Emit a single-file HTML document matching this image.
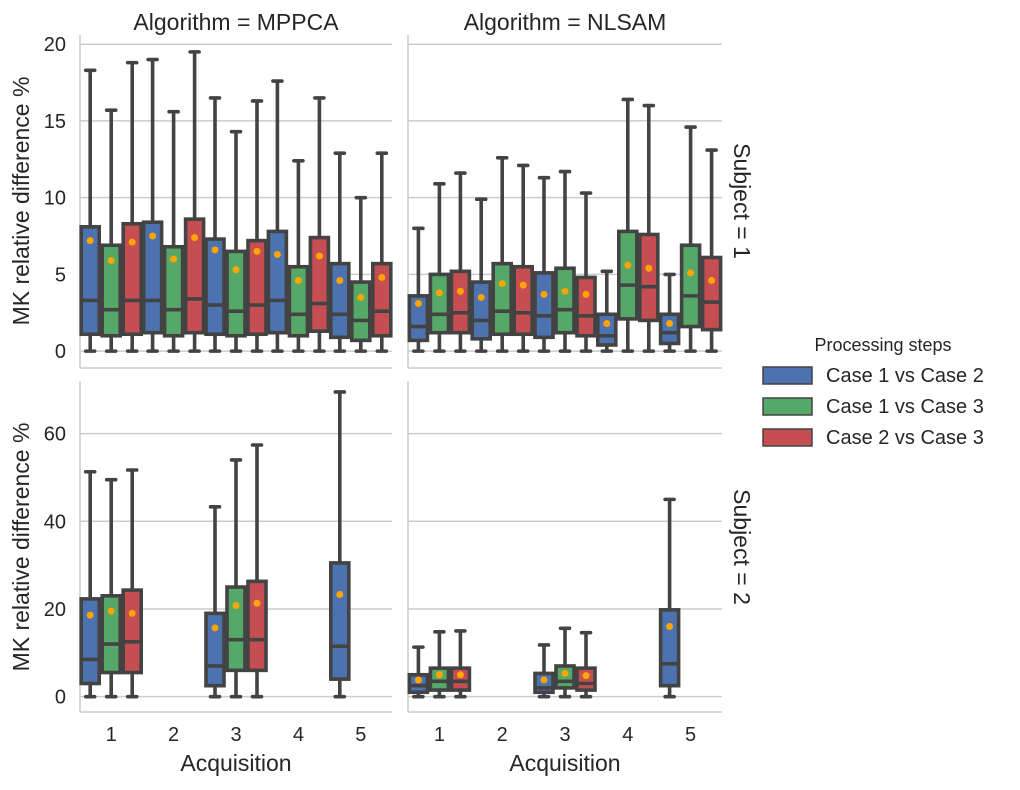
<!DOCTYPE html>
<html><head><meta charset="utf-8"><style>
body{margin:0;background:#fff;}
svg text{font-family:"Liberation Sans",sans-serif;fill:#262626;}
</style></head><body>
<svg id="c" width="1020" height="785"></svg>
<script>
const acquisitions=[1,2,3,4,5];
const seriesNames=["Case 1 vs Case 2","Case 1 vs Case 3","Case 2 vs Case 3"];
const seriesColors=["#4c72b0","#55a868","#c44e52"];
// each box: [low, q1, median, q3, high, mean]
const mppcaS1=[
 [[0,1.1,3.3,8.1,18.3,7.2],[0,1.0,2.7,6.9,15.7,5.9],[0,1.1,3.3,8.3,18.8,7.1]],
 [[0,1.2,3.3,8.4,19.0,7.5],[0,1.0,2.7,6.8,15.6,6.0],[0,1.2,3.4,8.6,19.5,7.4]],
 [[0,1.1,3.0,7.3,16.5,6.6],[0,1.0,2.6,6.5,14.3,5.3],[0,1.1,3.0,7.2,16.3,6.5]],
 [[0,1.2,3.3,7.8,17.6,6.3],[0,1.0,2.4,5.5,12.4,4.6],[0,1.3,3.1,7.4,16.5,6.2]],
 [[0,0.9,2.4,5.7,12.9,4.6],[0,0.7,2.0,4.5,10.0,3.5],[0,1.0,2.6,5.7,12.9,4.8]]];
const nlsamS1=[
 [[0,0.7,1.6,3.6,8.0,3.1],[0,1.2,2.4,5.0,10.9,3.8],[0,1.2,2.5,5.2,11.6,3.9]],
 [[0,0.8,2.0,4.5,9.9,3.5],[0,1.1,2.6,5.7,12.6,4.4],[0,1.1,2.5,5.5,12.1,4.3]],
 [[0,0.9,2.3,5.1,11.3,3.7],[0,1.2,2.7,5.4,11.7,3.9],[0,1.0,2.3,4.8,10.3,3.7]],
 [[0,0.4,1.0,2.4,5.2,1.8],[0,2.1,4.3,7.8,16.4,5.6],[0,2.0,4.2,7.6,16.0,5.4]],
 [[0,0.5,1.2,2.4,5.0,1.8],[0,1.6,3.6,6.9,14.6,5.1],[0,1.4,3.2,6.1,13.1,4.6]]];
const mppcaS2=[
 [[0,3,8.5,22.3,51.3,18.6],[0,5.5,12,23,49.5,19.5],[0,5.5,12.5,24.3,51.7,19]],
 [null,null,null],
 [[0,2.5,7,19,43.3,15.7],[0,6,13,25,54,20.8],[0,6,13,26.3,57.4,21.3]],
 [null,null,null],
 [[0,4,11.5,30.5,69.5,23.3],null,null]];
const nlsamS2=[
 [[0,1,2.5,5,11.3,3.8],[0,1.5,3.5,6.5,14.8,5],[0,1.5,3.5,6.5,15,5]],
 [null,null,null],
 [[0,1,2,5.3,11.8,3.8],[0,2,3.5,7,15.6,5.3],[0,1.5,3,6.5,14.6,4.8]],
 [null,null,null],
 [[0,2.5,7.5,19.8,45,16],null,null]];
const ticksS1=[0,5,10,15,20];
const ticksS2=[0,20,40,60];

const svg=document.getElementById('c');
const NS="http://www.w3.org/2000/svg";
function mk(tag,attrs,parent){const e=document.createElementNS(NS,tag);for(const k in attrs)e.setAttribute(k,attrs[k]);(parent||svg).appendChild(e);return e;}

const panels=[
 {data:mppcaS1,x0:80,x1:392,y0:35,y1:368,ymin:-1.1,ymax:20.6,ticks:ticksS1,left:true,bottom:false,name:'mppca-subject1'},
 {data:nlsamS1,x0:408,x1:722,y0:35,y1:368,ymin:-1.1,ymax:20.6,ticks:ticksS1,left:false,bottom:false,name:'nlsam-subject1'},
 {data:mppcaS2,x0:80,x1:392,y0:381,y1:712,ymin:-3.5,ymax:72,ticks:ticksS2,left:true,bottom:true,name:'mppca-subject2'},
 {data:nlsamS2,x0:408,x1:722,y0:381,y1:712,ymin:-3.5,ymax:72,ticks:ticksS2,left:false,bottom:true,name:'nlsam-subject2'}];

panels.forEach(p=>{
 const g=mk('g',{});
 
 
 const ys=v=>p.y1-(v-p.ymin)/(p.ymax-p.ymin)*(p.y1-p.y0);
 const step=(p.x1-p.x0)/acquisitions.length;
 const xs=i=>p.x0+step*(i+0.5);
 p.ticks.forEach(t=>{
  const gl=mk('line',{x1:p.x0,x2:p.x1,y1:ys(t),y2:ys(t),stroke:'#cccccc','stroke-width':1.5},g);
  
  
  if(p.left){const tx=mk('text',{x:p.x0-14,y:ys(t)+7,'text-anchor':'end','font-size':20},g);tx.textContent=t;
   
   }
 });
 mk('line',{x1:p.x0,x2:p.x0,y1:p.y0,y2:p.y1,stroke:'#cccccc','stroke-width':1.5},g);
 mk('line',{x1:p.x0,x2:p.x1,y1:p.y1,y2:p.y1,stroke:'#cccccc','stroke-width':1.5},g);
 if(p.bottom){acquisitions.forEach((a,i)=>{const tx=mk('text',{x:xs(i),y:p.y1+29,'text-anchor':'middle','font-size':20},g);tx.textContent=a;
   
   });
  const xl=mk('text',{x:(p.x0+p.x1)/2,y:771,'text-anchor':'middle','font-size':23},g);xl.textContent='Acquisition';
  
  }
 const bw=18,off=21;
 p.data.forEach((grp,i)=>{grp.forEach((b,j)=>{
  if(!b)return;
  const cx=xs(i)+(j-1)*off;
  const bg=mk('g',{},g);
  
  
  const st={stroke:'#434343','stroke-width':3.6};
  mk('line',Object.assign({x1:cx,x2:cx,y1:ys(b[0]),y2:ys(b[1])},st),bg);
  mk('line',Object.assign({x1:cx,x2:cx,y1:ys(b[3]),y2:ys(b[4])},st),bg);
  mk('line',Object.assign({x1:cx-4.5,x2:cx+4.5,y1:ys(b[0]),y2:ys(b[0]),'stroke-linecap':'round'},st),bg);
  mk('line',Object.assign({x1:cx-4.5,x2:cx+4.5,y1:ys(b[4]),y2:ys(b[4]),'stroke-linecap':'round'},st),bg);
  mk('rect',Object.assign({x:cx-bw/2,y:ys(b[3]),width:bw,height:ys(b[1])-ys(b[3]),fill:seriesColors[j]},st),bg);
  mk('line',Object.assign({x1:cx-bw/2,x2:cx+bw/2,y1:ys(b[2]),y2:ys(b[2])},st),bg);
  mk('circle',{cx:cx,cy:ys(b[5]),r:3.5,fill:'#ffa500'},bg);
 });});
});
function txt(s,attrs,name){const t=mk('text',attrs);t.textContent=s;return t;}
txt('Algorithm = MPPCA',{x:236,y:30,'text-anchor':'middle','font-size':23},'col-title-mppca');
txt('Algorithm = NLSAM',{x:565,y:30,'text-anchor':'middle','font-size':23},'col-title-nlsam');
txt('Subject = 1',{x:734,y:201,'text-anchor':'middle','font-size':23,transform:'rotate(90 734 201)'},'row-title-subject1');
txt('Subject = 2',{x:734,y:547,'text-anchor':'middle','font-size':23,transform:'rotate(90 734 547)'},'row-title-subject2');
txt('MK relative difference %',{x:29,y:201,'text-anchor':'middle','font-size':23,transform:'rotate(-90 29 201)'},'y-axis-title-row1');
txt('MK relative difference %',{x:29,y:547,'text-anchor':'middle','font-size':23,transform:'rotate(-90 29 547)'},'y-axis-title-row2');
txt('Processing steps',{x:883,y:351,'text-anchor':'middle','font-size':18},'legend-title');
seriesNames.forEach((n,j)=>{
 const y=375+j*31;
 const lg=mk('g',{});
 
 
 mk('rect',{x:763,y:y-8,width:49,height:17,fill:seriesColors[j],stroke:'#434343','stroke-width':1.5},lg);
 const t=mk('text',{x:826,y:y+7,'font-size':20},lg);t.textContent=n;
});
</script>
</body></html>
